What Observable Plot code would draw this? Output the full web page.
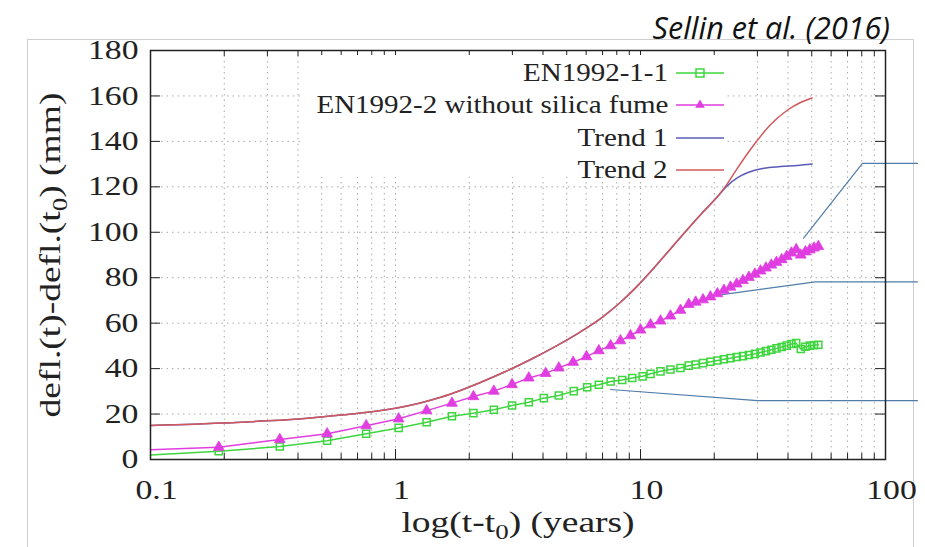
<!DOCTYPE html>
<html><head><meta charset="utf-8">
<script src="https://cdn.jsdelivr.net/npm/d3@7"></script>
<script src="https://cdn.jsdelivr.net/npm/@observablehq/plot@0.6"></script>
<style>
html,body{margin:0;padding:0;background:#fff;}
#wrap{position:relative;width:925px;height:547px;overflow:hidden;background:#fff;}
#frame{position:absolute;left:27px;top:39px;width:887px;height:600px;border:1px solid #cfcfcf;box-sizing:border-box;}
#chart{position:absolute;left:0;top:0;}
#title{position:absolute;right:35px;top:12px;line-height:30px;font-family:"Open Sans",sans-serif;font-style:italic;font-size:30.5px;color:#111;white-space:nowrap;}
#legend{position:absolute;left:300px;top:55px;width:424px;height:122px;background:#fff;}
.row{position:absolute;left:0;width:424px;height:32px;}
.lab{position:absolute;right:56px;top:0;height:32px;line-height:32px;font-family:"Liberation Serif",serif;font-size:25px;color:#222;white-space:nowrap;transform:scaleX(1.16);transform-origin:right center;}
.row svg{position:absolute;left:376px;top:0;}
</style></head>
<body>
<div id="wrap">
  <div id="frame"></div>
  <div id="chart"></div>
  <div id="legend"></div>
  <div id="title">Sellin et al. (2016)</div>
</div>
<script>
// ---- tick values ----
const xMajor = [0.1, 1, 10, 100];
const xMinor = [0.2,0.3,0.4,0.5,0.6,0.7,0.8,0.9,2,3,4,5,6,7,8,9,20,30,40,50,60,70,80,90];
const yTicks = [0,20,40,60,80,100,120,140,160,180];

// ---- series names ----
const seriesNames = ["EN1992-1-1","EN1992-2 without silica fume","Trend 1","Trend 2"];

// ---- EN1992-1-1 (green squares) ----
const enT = [0.1,0.19,0.337,0.526,0.759,1.03,1.34,1.70,2.08,2.52,2.99,3.50,4.03,4.64,5.34,6.06,6.76,7.55,8.42,9.25,10.2,10.99,12.07,13.25,14.56,15.74,
  16.8,18.0,19.3,20.6,21.9,23.3,24.7,26.2,27.7,29.3,30.9,32.5,34.2,35.9,37.7,39.5,41.3,43.2,45.1,47.1,49.1,51.1,53.2];
const enY = [2.0,3.6,5.7,8.3,11.3,13.9,16.4,19.0,20.4,21.9,23.8,25.2,27.0,28.2,30.1,31.8,32.9,34.3,35.0,35.9,36.6,37.7,38.8,39.6,40.3,41.3,
  41.8,42.4,43.0,43.6,44.1,44.6,45.1,45.5,46.0,46.5,47.1,47.7,48.3,48.9,49.5,50.1,50.8,51.2,48.6,49.6,50.1,50.3,50.5];

// ---- EN1992-2 without silica fume (magenta triangles) ----
const sfT = [0.1,0.19,0.337,0.526,0.759,1.03,1.34,1.70,2.08,2.52,2.99,3.50,4.10,4.64,5.31,6.02,6.76,7.55,8.28,9.10,10.0,10.99,12.07,13.25,14.56,15.74,
  16.8,18.0,19.3,20.6,21.9,23.3,24.7,26.2,27.7,29.3,30.9,32.5,34.2,35.9,37.7,39.5,41.3,43.2,45.1,47.1,49.1,51.1,53.2];
const sfY = [4.3,5.4,8.8,11.3,14.9,17.9,21.5,24.8,27.7,30.1,33.0,35.9,37.9,40.3,42.8,45.3,47.9,50.1,52.3,54.5,57.0,59.3,61.0,63.2,65.7,68.3,
  69.3,70.3,71.6,73.0,74.5,75.9,77.3,78.8,80.2,81.6,83.0,84.3,85.6,86.8,88.0,89.4,90.9,92.4,90.0,91.4,92.3,93.1,93.8];

// ---- Trend curves (shared part, then the two tails) ----
const trendT = [0.1,0.15,0.2,0.3,0.45,0.6,0.8,1.0,1.25,1.53,1.85,2.22,2.8,3.56,4.5,5.69,7.0,8.29,9.7,11.3,13.3,15.5,18.0,20.6];
const trendY = [15.0,15.5,16.1,17.0,18.3,19.6,21.0,22.6,24.8,27.4,30.5,33.9,38.6,44.0,49.8,56.2,62.7,69.2,76.3,84.1,92.9,101.1,108.9,115.6];
const trend1TailT = [22.5,25.0,27.3,31.9,37.3,43.6,50.2];
const trend1TailY = [120.3,124.2,126.2,128.2,128.9,129.4,130.0];
const trend2TailT = [22.5,24.8,29.0,33.9,39.7,45.0,50.2];
const trend2TailY = [121.0,128.0,138.4,147.3,153.7,157.1,159.1];

// ---- callout lines (extend to the right of the plot) ----
const call1T = [46.3,80.5,135], call1Y = [97.4,130.3,130.3];
const call2T = [21.5,51.8,135], call2Y = [72.6,78.2,78.2];
const call3T = [7.55,30.0,135], call3Y = [30.8,25.9,25.9];

const zip = (ts, ys) => ts.map((t, i) => ({t, v: ys[i]}));
const en = zip(enT, enY);
const sf = zip(sfT, sfY);
const trend1 = zip(trendT.concat(trend1TailT), trendY.concat(trend1TailY));
const trend2 = zip(trendT.concat(trend2TailT), trendY.concat(trend2TailY));
const calls = [zip(call1T, call1Y), zip(call2T, call2Y), zip(call3T, call3Y)];

const C = {green:"#3ed63e", magenta:"#e03ee0", blue:"#5a5ab8", red:"#d2585c", call:"#4f7dab", grid:"#a8a8a8", ink:"#222"};
const W = 925, H = 547, ML = 150, MR = 40, MT = 50, MB = 88;
const PW = W - ML - MR, PH = H - MT - MB;
const serif = "'Liberation Serif', 'Times New Roman', serif";

const chart = Plot.plot({
  width: W, height: H, marginLeft: ML, marginRight: MR, marginTop: MT, marginBottom: MB,
  style: {background: "transparent", fontFamily: serif, color: C.ink, overflow: "visible"},
  x: {type: "log", domain: [0.1, 100]},
  y: {domain: [0, 180]},
  marks: [
    Plot.ruleY(yTicks.slice(1, -1), {stroke: C.grid, strokeDasharray: "1.5,4", strokeWidth: 1}),
    Plot.ruleX(xMinor.concat([1, 10]), {stroke: C.grid, strokeDasharray: "1.5,4", strokeWidth: 1}),
    // inward ticks
    Plot.ruleX(xMinor, {stroke: C.ink, strokeWidth: 1, insetTop: PH - 6}),
    Plot.ruleX(xMinor, {stroke: C.ink, strokeWidth: 1, insetBottom: PH - 6}),
    Plot.ruleX([1, 10], {stroke: C.ink, strokeWidth: 1, insetTop: PH - 10}),
    Plot.ruleX([1, 10], {stroke: C.ink, strokeWidth: 1, insetBottom: PH - 10}),
    Plot.ruleY(yTicks.slice(1, -1), {stroke: C.ink, strokeWidth: 1, insetRight: PW - 10}),
    Plot.ruleY(yTicks.slice(1, -1), {stroke: C.ink, strokeWidth: 1, insetLeft: PW - 10}),
    Plot.axisX({ticks: xMajor, tickSize: 0, tickPadding: 20, dx: 6, fontSize: 27, fontFamily: serif,
      tickFormat: d => String(d), label: "log(t-t0) (years)", labelAnchor: "center", labelOffset: 72, labelArrow: "none"}),
    Plot.axisY({ticks: yTicks, tickSize: 0, tickPadding: 12, fontSize: 27, fontFamily: serif,
      tickFormat: d => String(d), label: "defl.(t)-defl.(t0) (mm)", labelAnchor: "center", labelOffset: 112, labelArrow: "none"}),
    // callouts
    ...calls.map(c => Plot.line(c, {x: "t", y: "v", stroke: C.call, strokeWidth: 1.2, clip: false})),
    // series
    Plot.line(en, {x: "t", y: "v", stroke: C.green, strokeWidth: 1.5}),
    Plot.dot(en.slice(1), {x: "t", y: "v", symbol: "square", r: 4, stroke: C.green, strokeWidth: 1.5, fill: "none"}),
    Plot.line(sf, {x: "t", y: "v", stroke: C.magenta, strokeWidth: 1.5}),
    Plot.dot(sf.slice(1), {x: "t", y: "v", symbol: "triangle", r: 4, fill: C.magenta, stroke: C.magenta, strokeWidth: 0.8}),
    Plot.line(trend1, {x: "t", y: "v", stroke: C.blue, strokeWidth: 1.5, curve: "monotone-x"}),
    Plot.line(trend2, {x: "t", y: "v", stroke: C.red, strokeWidth: 1.5, curve: "monotone-x"}),
    Plot.frame({stroke: C.ink, strokeWidth: 1.5})
  ]
});
document.getElementById("chart").appendChild(chart);

// subscripts in axis labels
function subLabel(sel, before, after) {
  const t = d3.select(chart).select(sel);
  if (t.empty()) return;
  t.text(null);
  t.append("tspan").text(before);
  t.append("tspan").attr("dy", 7).attr("font-size", "0.72em").text("0");
  t.append("tspan").attr("dy", -7).text(after);
}
subLabel('g[aria-label="x-axis label"] text', "log(t-t", ") (years)");
subLabel('g[aria-label="y-axis label"] text', "defl.(t)-defl.(t", ") (mm)");
d3.select(chart).selectAll('g[aria-label="x-axis label"] text, g[aria-label="y-axis label"] text').attr("font-size", 30);

// widen serif glyphs like the original
const STRETCH = 1.25;
d3.select(chart).selectAll("text").each(function() {
  const w = this.getComputedTextLength();
  if (w > 0) { this.setAttribute("textLength", (w * STRETCH).toFixed(1)); this.setAttribute("lengthAdjust", "spacingAndGlyphs"); }
});

// legend
const legendStyle = [
  {color: C.green, marker: "square"},
  {color: C.magenta, marker: "triangle"},
  {color: C.blue, marker: null},
  {color: C.red, marker: null}
];
const leg = d3.select("#legend");
seriesNames.forEach((name, i) => {
  const row = leg.append("div").attr("class", "row").style("top", (2 + i * 32.3) + "px");
  row.append("span").attr("class", "lab").text(name);
  const s = row.append("svg").attr("width", 50).attr("height", 32);
  const st = legendStyle[i];
  s.append("line").attr("x1", 0).attr("x2", 48).attr("y1", 16).attr("y2", 16).attr("stroke", st.color).attr("stroke-width", 1.5);
  if (st.marker === "square") s.append("rect").attr("x", 20).attr("y", 12).attr("width", 8).attr("height", 8).attr("fill", "none").attr("stroke", st.color).attr("stroke-width", 1.5);
  if (st.marker === "triangle") s.append("path").attr("d", d3.symbol(d3.symbolTriangle, 40)()).attr("transform", "translate(24,16)").attr("fill", st.color);
});
</script>
</body></html>
